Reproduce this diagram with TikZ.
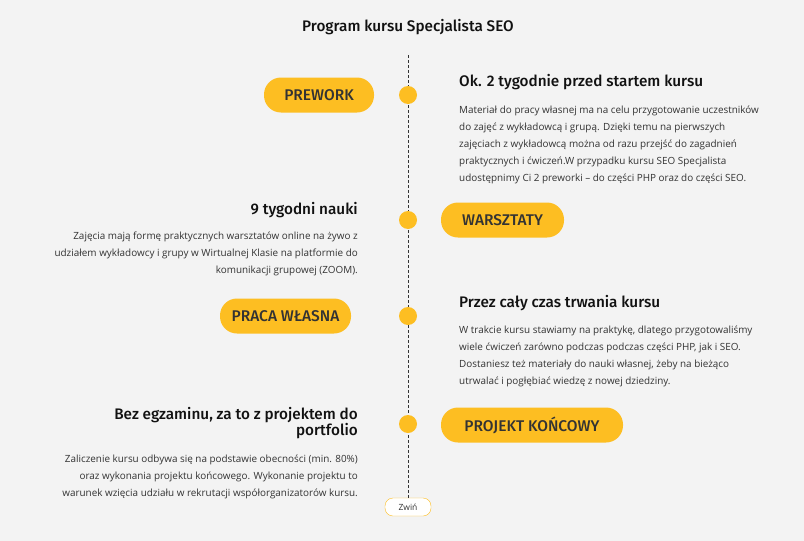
\documentclass[tikz,border=0pt]{standalone}
\usepackage{fontspec}
\setmainfont{Open Sans}
\newfontfamily\headfont{Fira Sans}[BoldFont={* Medium}]
\usepackage{xcolor}
\usetikzlibrary{positioning}
\definecolor{pagebg}{HTML}{F3F3F3}
\definecolor{amber}{HTML}{FDBE22}
\definecolor{ink}{HTML}{333333}
\definecolor{headink}{HTML}{111111}

\begin{document}
\begin{tikzpicture}[x=1pt, y=-1pt,
  pill/.style={fill=amber, rounded corners=17pt, minimum height=35pt,
               inner xsep=0pt, text=ink, font=\headfont\bfseries\fontsize{15.5}{17}\selectfont},
  dot/.style={circle, fill=amber, minimum size=18pt, inner sep=0pt},
  head/.style={text=headink, inner sep=0pt, font=\headfont\bfseries\fontsize{15.3}{16.5}\selectfont},
  body/.style={text=ink, inner sep=0pt, font=\fontsize{9.9}{17}\selectfont},
  spine/.style={draw=ink, dashed, line width=0.8pt, dash pattern=on 3pt off 2pt},
]
\fill[pagebg] (0,0) rectangle (804,541);
\useasboundingbox (0,0) rectangle (804,541);

\node[text=headink, font=\headfont\bfseries\fontsize{15.3}{17}\selectfont] (title) at (408,27) {Program kursu Specjalista SEO};

% spine and toggle
\coordinate (top) at (408,55);
\node[draw=amber, fill=white, rounded corners=8pt, minimum width=46pt, minimum height=18pt,
      inner sep=0pt, text=ink, font=\fontsize{8.5}{10}\selectfont] (zwin) at (408,507) {Zwiń};
\draw[spine] (top) -- (zwin.north);

% timeline dots
\node[dot] (d1) at (408,95) {};
\node[dot] (d2) at (408,220) {};
\node[dot] (d3) at (408,316) {};
\node[dot] (d4) at (408,424) {};

% pills
\node[pill, minimum width=110pt] (prework) at (319,95) {PREWORK};
\node[pill, minimum width=123pt] (warsztaty) at (502.5,220) {WARSZTATY};
\node[pill, minimum width=131pt] (praca) at (285.5,316) {PRACA WŁASNA};
\node[pill, minimum width=182pt] (projekt) at (532,425) {PROJEKT KOŃCOWY};

% right column
\node[head, anchor=west] (h1) at (459,82) {Ok. 2 tygodnie przed startem kursu};
\node[body, anchor=north west, align=left] (b1) at (459,106) {Materiał do pracy własnej ma na celu przygotowanie uczestników\\do zajęć z wykładowcą i grupą. Dzięki temu na pierwszych\\zajęciach z wykładowcą można od razu przejść do zagadnień\\praktycznych i ćwiczeń.W przypadku kursu SEO Specjalista\\udostępnimy Ci 2 preworki -- do części PHP oraz do części SEO.};

\node[head, anchor=west] (h3) at (459,303) {Przez cały czas trwania kursu};
\node[body, anchor=north west, align=left] (b3) at (459,326) {W trakcie kursu stawiamy na praktykę, dlatego przygotowaliśmy\\wiele ćwiczeń zarówno podczas podczas części PHP, jak i SEO.\\Dostaniesz też materiały do nauki własnej, żeby na bieżąco\\utrwalać i pogłębiać wiedzę z nowej dziedziny.};

% left column
\node[head, anchor=east] (h2) at (358,210) {9 tygodni nauki};
\node[body, anchor=north east, align=right] (b2) at (358,232) {Zajęcia mają formę praktycznych warsztatów online na żywo z\\udziałem wykładowcy i grupy w Wirtualnej Klasie na platformie do\\komunikacji grupowej (ZOOM).};

\node[head, anchor=north east, align=right] (h4) at (358,407) {Bez egzaminu, za to z projektem do\\portfolio};
\node[body, anchor=north east, align=right] (b4) at (358,455) {Zaliczenie kursu odbywa się na podstawie obecności (min. 80\%)\\oraz wykonania projektu końcowego. Wykonanie projektu to\\warunek wzięcia udziału w rekrutacji współorganizatorów kursu.};
\end{tikzpicture}
\end{document}
